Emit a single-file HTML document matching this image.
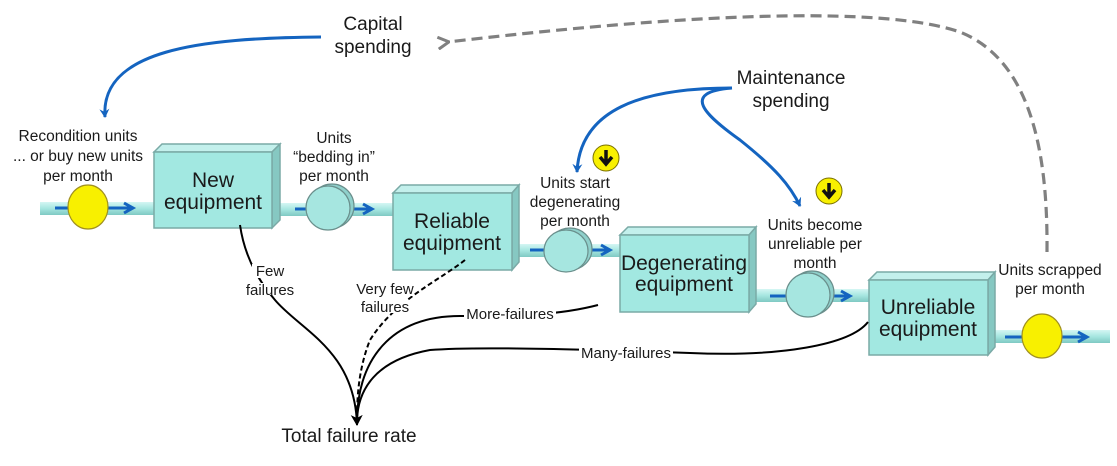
<!DOCTYPE html>
<html><head><meta charset="utf-8"><style>
html,body{margin:0;padding:0;background:#fff;}
svg{display:block;}
text{font-family:"Liberation Sans",sans-serif;fill:#1a1a1a;}
</style></head><body>
<svg width="1117" height="466" viewBox="0 0 1117 466" xmlns="http://www.w3.org/2000/svg">
<defs>
<linearGradient id="pipe" x1="0" y1="0" x2="0" y2="1">
<stop offset="0" stop-color="#d4f6f3"/><stop offset="0.5" stop-color="#a6e6e0"/><stop offset="1" stop-color="#7fc9c3"/>
</linearGradient>
<marker id="ab" markerWidth="10" markerHeight="10" refX="8" refY="5" orient="auto" markerUnits="userSpaceOnUse"><path d="M0,0 L9,5 L0,10 L3,5 z" fill="#1464c0"/></marker>
<marker id="ag" markerWidth="14" markerHeight="14" refX="2" refY="7" orient="auto" markerUnits="userSpaceOnUse"><path d="M12,1 L1,7 L12,13" fill="none" stroke="#808080" stroke-width="3"/></marker>
<marker id="ak" markerWidth="12" markerHeight="14" refX="10" refY="7" orient="auto" markerUnits="userSpaceOnUse"><path d="M0,1 L11,7 L0,13 L3,7 z" fill="#000"/></marker>
</defs>

<rect x="40" y="202" width="116" height="13" fill="url(#pipe)"/>
<rect x="272" y="203" width="124" height="13" fill="url(#pipe)"/>
<rect x="512" y="244" width="110" height="13" fill="url(#pipe)"/>
<rect x="749" y="289" width="122" height="13" fill="url(#pipe)"/>
<rect x="988" y="330" width="122" height="13" fill="url(#pipe)"/>

<g stroke="#1464c0" stroke-width="3" fill="none">
<line x1="55" y1="208" x2="133" y2="208"/><polyline points="124,203 133,208 124,213"/>
<line x1="295" y1="209" x2="372" y2="209"/><polyline points="363,204 372,209 363,214"/>
<line x1="530" y1="250" x2="610" y2="250"/><polyline points="601,245 610,250 601,255"/>
<line x1="770" y1="296" x2="850" y2="296"/><polyline points="841,291 850,296 841,301"/>
<line x1="1005" y1="337" x2="1087" y2="337"/><polyline points="1078,332 1087,337 1078,342"/>
</g>

<ellipse cx="88" cy="207" rx="20" ry="22" fill="#f8f000" stroke="#a09020" stroke-width="1.2"/>
<ellipse cx="1042" cy="336" rx="20" ry="22" fill="#f8f000" stroke="#a09020" stroke-width="1.2"/>
<g stroke="#6a8f8c" stroke-width="1.2">
<ellipse cx="332" cy="206" rx="22" ry="22" fill="#8fd0cb"/>
<ellipse cx="328" cy="208" rx="22" ry="22" fill="#a6e6e0"/>
<ellipse cx="570" cy="249" rx="22" ry="21" fill="#8fd0cb"/>
<ellipse cx="566" cy="251" rx="22" ry="21" fill="#a6e6e0"/>
<ellipse cx="812" cy="293" rx="22" ry="22" fill="#8fd0cb"/>
<ellipse cx="808" cy="295" rx="22" ry="22" fill="#a6e6e0"/>
</g>

<g stroke="#7aaaa6" stroke-width="1.5">
<polygon points="154,152 162,144 280,144 272,152" fill="#c3f0ec"/>
<polygon points="272,152 280,144 280,220 272,228" fill="#86c8c2"/>
<rect x="154" y="152" width="118" height="76" fill="#a2e8e1"/>
<polygon points="393,193 401,185 519,185 512,193" fill="#c3f0ec"/>
<polygon points="512,193 519,185 519,262 512,270" fill="#86c8c2"/>
<rect x="393" y="193" width="119" height="77" fill="#a2e8e1"/>
<polygon points="620,235 628,227 756,227 749,235" fill="#c3f0ec"/>
<polygon points="749,235 756,227 756,304 749,312" fill="#86c8c2"/>
<rect x="620" y="235" width="129" height="77" fill="#a2e8e1"/>
<polygon points="869,280 877,272 995,272 988,280" fill="#c3f0ec"/>
<polygon points="988,280 995,272 995,347 988,355" fill="#86c8c2"/>
<rect x="869" y="280" width="119" height="75" fill="#a2e8e1"/>
</g>
<g font-size="21" text-anchor="middle">
<text x="213" y="187">New</text><text x="213" y="209">equipment</text>
<text x="452" y="228">Reliable</text><text x="452" y="250">equipment</text>
<text x="684" y="270">Degenerating</text><text x="684" y="291">equipment</text>
<text x="928" y="314">Unreliable</text><text x="928" y="336">equipment</text>
</g>

<g>
<circle cx="606" cy="158" r="13" fill="#f8f000" stroke="#7a7000" stroke-width="1"/>
<path d="M606,150 V163 M600,157 L606,164 L612,157" stroke="#111" stroke-width="3.5" fill="none"/>
<circle cx="829" cy="191" r="13" fill="#f8f000" stroke="#7a7000" stroke-width="1"/>
<path d="M829,183 V196 M823,190 L829,197 L835,190" stroke="#111" stroke-width="3.5" fill="none"/>
</g>

<g stroke="#1464c0" stroke-width="3" fill="none" marker-end="url(#ab)">
<path d="M321,37 C200,38 100,50 105,117"/>
<path d="M732,88 C640,88 580,110 577,172"/>
<path d="M732,88 C680,92 705,115 740,140 C775,168 790,185 800,206"/>
</g>

<path d="M1047,252 C1048,150 1030,60 960,32 C890,8 720,10 448,42" stroke="#808080" stroke-width="3.2" fill="none" stroke-dasharray="11,6" marker-end="url(#ag)"/>

<g stroke="#000" stroke-width="2" fill="none">
<path d="M240,225 C245,260 262,285 275,300 C300,330 355,350 357,425" marker-end="url(#ak)"/>
<path d="M465,260 C440,280 395,300 370,340 C358,370 357,400 357,420" stroke-dasharray="5,3"/>
<path d="M598,305 C560,315 520,316 460,316 C390,316 358,360 357,420"/>
<path d="M868,322 C850,345 780,357 690,353 C600,350 480,346 430,350 C375,360 358,390 357,420"/>
</g>
<g fill="#fff">
<rect x="252" y="264" width="38" height="14"/>
<rect x="248" y="283" width="46" height="12"/>
<rect x="356" y="282" width="58" height="14"/>
<rect x="362" y="300" width="46" height="13"/>
<rect x="464" y="307" width="92" height="14"/>
<rect x="579" y="346" width="94" height="14"/>
</g>
<g font-size="15" text-anchor="middle">
<text x="270" y="276">Few</text><text x="270" y="295">failures</text>
<text x="385" y="294">Very few</text><text x="385" y="312">failures</text>
<text x="510" y="319">More-failures</text>
<text x="626" y="358">Many-failures</text>
</g>

<g font-size="19" text-anchor="middle">
<text x="373" y="30">Capital</text><text x="373" y="53">spending</text>
<text x="791" y="84">Maintenance</text><text x="791" y="107">spending</text>
<text x="349" y="442">Total failure rate</text>
</g>
<g font-size="15.5" text-anchor="middle">
<text x="78" y="141">Recondition units</text><text x="78" y="161">... or buy new units</text><text x="78" y="181">per month</text>
<text x="334" y="143">Units</text><text x="334" y="162">“bedding in”</text><text x="334" y="181">per month</text>
<text x="575" y="188">Units start</text><text x="575" y="207">degenerating</text><text x="575" y="226">per month</text>
<text x="815" y="230">Units become</text><text x="815" y="249">unreliable per</text><text x="815" y="268">month</text>
<text x="1050" y="275">Units scrapped</text><text x="1050" y="294">per month</text>
</g>
</svg>
</body></html>
